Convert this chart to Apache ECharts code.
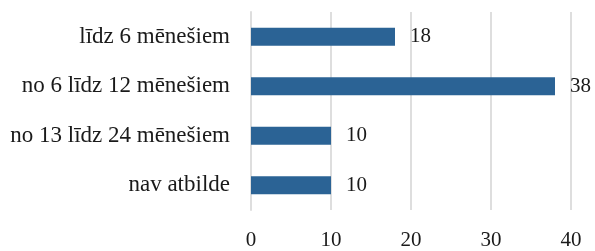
<!DOCTYPE html>
<html>
<head>
<meta charset="utf-8">
<script src="https://cdn.jsdelivr.net/npm/echarts@6/dist/echarts.min.js"></script>
<style>
  html, body { margin: 0; padding: 0; background: #fff; }
  #chart { width: 595px; height: 251px; }
</style>
</head>
<body>
<div id="chart"></div>
<script>
// kategorijas (no augšas uz leju) un vērtības
var categories = ['līdz 6 mēnešiem', 'no 6 līdz 12 mēnešiem', 'no 13 līdz 24 mēnešiem', 'nav atbilde'];
var values = [18, 38, 10, 10];
var tickMin = 0, tickMax = 40, tickStep = 10;

var myChart = echarts.init(document.getElementById('chart'));

var font = 'Liberation Serif, Times New Roman, serif';

var option = {
    animation: false,
    grid: {
        left: 251,
        right: 24,
        top: 12,
        bottom: 39
    },
    xAxis: {
        type: 'value',
        min: tickMin,
        max: tickMax,
        interval: tickStep,
        axisLine: { show: false },
        axisTick: { show: false },
        splitLine: {
            lineStyle: { color: '#dedede', width: 2 }
        },
        axisLabel: {
            margin: 20,
            fontFamily: font,
            fontSize: 21,
            color: '#1a1a1a'
        }
    },
    yAxis: {
        type: 'category',
        inverse: true,
        data: categories,
        axisLine: {
            lineStyle: { color: '#dedede', width: 2 }
        },
        axisTick: { show: false },
        axisLabel: {
            margin: 21,
            fontFamily: font,
            fontSize: 23,
            color: '#1a1a1a'
        }
    },
    series: [{
        type: 'bar',
        data: values,
        barWidth: 18,
        itemStyle: { color: '#2b6395' },
        label: {
            show: true,
            position: 'right',
            distance: 15,
            fontFamily: font,
            fontSize: 21,
            color: '#1a1a1a'
        }
    }]
};

myChart.setOption(option);
</script>
</body>
</html>
